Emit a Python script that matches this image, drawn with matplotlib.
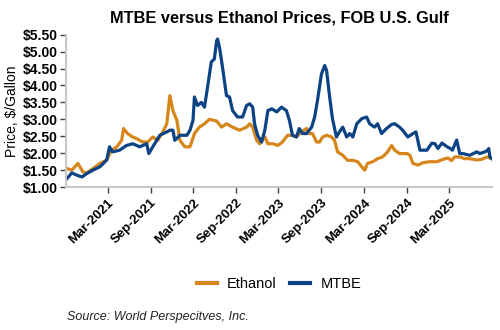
import matplotlib
matplotlib.use("Agg")
import matplotlib.pyplot as plt
import matplotlib.dates as mdates
import matplotlib.ticker as mticker
import pandas as pd

plt.rcParams['font.family'] = ['Liberation Sans', 'DejaVu Sans']

# Weekly-sampled FOB U.S. Gulf prices ($/gallon)
eth_dates = [
    "2020-09-08", "2020-09-29", "2020-10-25", "2020-11-15", "2020-12-02", "2020-12-28",
    "2021-01-27", "2021-02-25", "2021-03-18", "2021-04-09", "2021-04-30", "2021-05-08",
    "2021-05-25", "2021-06-16", "2021-07-03", "2021-07-29", "2021-08-19", "2021-09-10",
    "2021-10-01", "2021-10-23", "2021-11-09", "2021-11-22", "2021-12-05", "2021-12-22",
    "2022-01-04", "2022-01-25", "2022-02-16", "2022-03-07", "2022-03-28", "2022-04-19",
    "2022-05-10", "2022-06-10", "2022-07-01", "2022-07-22", "2022-08-17", "2022-09-16",
    "2022-10-16", "2022-10-29", "2022-11-11", "2022-11-28", "2022-12-11", "2023-01-02",
    "2023-01-15", "2023-02-05", "2023-02-27", "2023-03-18", "2023-04-09", "2023-04-30",
    "2023-05-17", "2023-06-08", "2023-06-29", "2023-07-12", "2023-07-25", "2023-08-11",
    "2023-08-24", "2023-09-06", "2023-09-23", "2023-10-14", "2023-10-27", "2023-11-09",
    "2023-12-01", "2023-12-22", "2024-01-13", "2024-02-03", "2024-02-20", "2024-03-04",
    "2024-03-16", "2024-04-07", "2024-04-28", "2024-05-19", "2024-06-10", "2024-06-27",
    "2024-07-10", "2024-07-31", "2024-09-01", "2024-09-13", "2024-09-26", "2024-10-17",
    "2024-11-08", "2024-12-08", "2025-01-07", "2025-02-02", "2025-02-23", "2025-03-10",
    "2025-03-23", "2025-04-14", "2025-05-05", "2025-05-26", "2025-06-26", "2025-07-17",
    "2025-08-08", "2025-08-29",
]
eth_vals = [
    1.55, 1.50, 1.70, 1.45, 1.42, 1.55,
    1.70, 1.80, 2.09, 2.19, 2.38, 2.73,
    2.58, 2.48, 2.43, 2.33, 2.33, 2.48,
    2.38, 2.63, 2.87, 3.70, 3.26, 2.97,
    2.38, 2.19, 2.19, 2.58, 2.77, 2.87,
    3.00, 2.95, 2.77, 2.87, 2.77, 2.68,
    2.77, 2.87, 2.77, 2.38, 2.28, 2.48,
    2.28, 2.28, 2.23, 2.33, 2.53, 2.53,
    2.48, 2.63, 2.73, 2.58, 2.58, 2.33,
    2.33, 2.48, 2.53, 2.48, 2.38, 2.04,
    1.94, 1.79, 1.79, 1.75, 1.60, 1.50,
    1.70, 1.75, 1.84, 1.89, 2.04, 2.23,
    2.09, 1.99, 1.99, 1.94, 1.70, 1.65,
    1.72, 1.75, 1.75, 1.82, 1.86, 1.78,
    1.89, 1.89, 1.84, 1.84, 1.80, 1.82,
    1.89, 1.84,
]

mtbe_dates = [
    "2020-09-08", "2020-09-29", "2020-10-21", "2020-11-11", "2020-12-02", "2020-12-28",
    "2021-01-27", "2021-02-25", "2021-03-09", "2021-03-22", "2021-04-21", "2021-05-21",
    "2021-06-16", "2021-07-16", "2021-08-15", "2021-08-24", "2021-09-10", "2021-10-10",
    "2021-11-09", "2021-11-22", "2021-12-05", "2021-12-13", "2022-01-04", "2022-02-03",
    "2022-02-16", "2022-03-01", "2022-03-07", "2022-03-20", "2022-04-06", "2022-04-19",
    "2022-05-01", "2022-05-18", "2022-05-31", "2022-06-10", "2022-06-14", "2022-06-22",
    "2022-07-05", "2022-07-22", "2022-08-04", "2022-08-17", "2022-09-07", "2022-09-29",
    "2022-10-16", "2022-10-29", "2022-11-11", "2022-11-19", "2022-12-02", "2022-12-19",
    "2023-01-02", "2023-01-15", "2023-02-01", "2023-02-22", "2023-03-14", "2023-04-04",
    "2023-04-17", "2023-04-30", "2023-05-17", "2023-05-29", "2023-06-12", "2023-06-29",
    "2023-07-21", "2023-08-03", "2023-08-15", "2023-09-01", "2023-09-15", "2023-09-23",
    "2023-10-06", "2023-10-18", "2023-11-04", "2023-11-17", "2023-12-01", "2023-12-18",
    "2023-12-31", "2024-01-13", "2024-01-30", "2024-02-20", "2024-03-12", "2024-03-25",
    "2024-04-15", "2024-04-28", "2024-05-15", "2024-06-05", "2024-06-27", "2024-07-10",
    "2024-07-31", "2024-08-13", "2024-09-04", "2024-09-26", "2024-10-09", "2024-10-26",
    "2024-11-08", "2024-11-25", "2024-12-16", "2024-12-29", "2025-01-11", "2025-01-28",
    "2025-02-19", "2025-03-03", "2025-03-14", "2025-04-01", "2025-04-14", "2025-04-27",
    "2025-05-27", "2025-06-26", "2025-07-09", "2025-07-30", "2025-08-12", "2025-08-16",
    "2025-08-21", "2025-08-29",
]
mtbe_vals = [
    1.25, 1.42, 1.35, 1.30, 1.40, 1.50,
    1.60, 1.80, 2.19, 2.04, 2.09, 2.23,
    2.28, 2.19, 2.28, 1.99, 2.19, 2.53,
    2.63, 2.68, 2.68, 2.38, 2.53, 2.53,
    2.68, 2.97, 3.66, 3.41, 3.50, 3.36,
    3.90, 4.69, 4.78, 5.32, 5.37, 5.13,
    4.54, 3.70, 3.66, 3.26, 3.07, 3.07,
    3.41, 3.46, 3.36, 2.87, 2.53, 2.33,
    2.68, 3.26, 3.31, 3.22, 3.36, 3.26,
    2.97, 2.53, 2.48, 2.73, 2.58, 2.58,
    2.77, 3.07, 3.56, 4.34, 4.59, 4.44,
    3.66, 3.02, 2.48, 2.63, 2.77, 2.48,
    2.58, 2.48, 2.87, 3.02, 3.07, 2.87,
    2.77, 2.87, 2.58, 2.73, 2.85, 2.87,
    2.77, 2.68, 2.48, 2.58, 2.63, 2.09,
    2.09, 2.09, 2.30, 2.28, 2.14, 2.30,
    2.19, 2.15, 2.09, 2.39, 1.99, 1.99,
    1.94, 2.04, 1.99, 2.04, 2.09, 2.14,
    1.89, 1.84,
]

series_names = ["Ethanol", "MTBE"]
series_colors = ["#D6861B", "#0B4385"]
y_ticks = [1.0, 1.5, 2.0, 2.5, 3.0, 3.5, 4.0, 4.5, 5.0, 5.5]
x_tick_dates = ["2021-03-01", "2021-09-01", "2022-03-01", "2022-09-01", "2023-03-01",
                "2023-09-01", "2024-03-01", "2024-09-01", "2025-03-01"]

fig = plt.figure(figsize=(5.0, 3.3), dpi=100)
ax = fig.add_axes([0.132, 0.433, 0.852, 0.462])

ax.plot(pd.to_datetime(eth_dates), eth_vals, color=series_colors[0], lw=2.3,
        label=series_names[0], solid_joinstyle="round")
ax.plot(pd.to_datetime(mtbe_dates), mtbe_vals, color=series_colors[1], lw=2.3,
        label=series_names[1], solid_joinstyle="round")

ax.set_xlim(pd.Timestamp("2020-09-04"), pd.Timestamp("2025-08-30"))
ax.set_ylim(1.0, 5.5)
ax.set_yticks(y_ticks)
ax.yaxis.set_major_formatter(mticker.FuncFormatter(lambda v, p: f"${v:.2f}"))
ax.set_xticks(pd.to_datetime(x_tick_dates))
ax.xaxis.set_major_formatter(mdates.DateFormatter("%b-%Y"))

for s in ["top", "right"]:
    ax.spines[s].set_visible(False)
for s in ["left", "bottom"]:
    ax.spines[s].set_color("#c8c8c8")
    ax.spines[s].set_linewidth(1.5)

ax.tick_params(axis="both", colors="#404040", length=4, width=1, labelcolor="black")
ax.tick_params(axis="y", labelsize=10, pad=2)
ax.tick_params(axis="x", labelsize=9.5, pad=3, labelrotation=45)
plt.setp(ax.get_yticklabels(), fontweight="bold")
plt.setp(ax.get_xticklabels(), fontweight="bold", ha="right", rotation_mode="anchor")

ax.set_ylabel("Price, $/Gallon", fontsize=10, labelpad=3)
ax.set_title("MTBE versus Ethanol Prices, FOB U.S. Gulf", fontsize=11.8,
             fontweight="bold", pad=9)

leg = fig.legend(loc="center", bbox_to_anchor=(0.558, 0.14), ncol=2, frameon=False,
                 fontsize=10.5, handlelength=1.4, columnspacing=0.9, handletextpad=0.7)
for line in leg.get_lines():
    line.set_linewidth(3)

fig.text(0.134, 0.03, "Source: World Perspecitves, Inc.", fontsize=9, style="italic",
         color="#222222")

fig.savefig("out.png", dpi=100)
